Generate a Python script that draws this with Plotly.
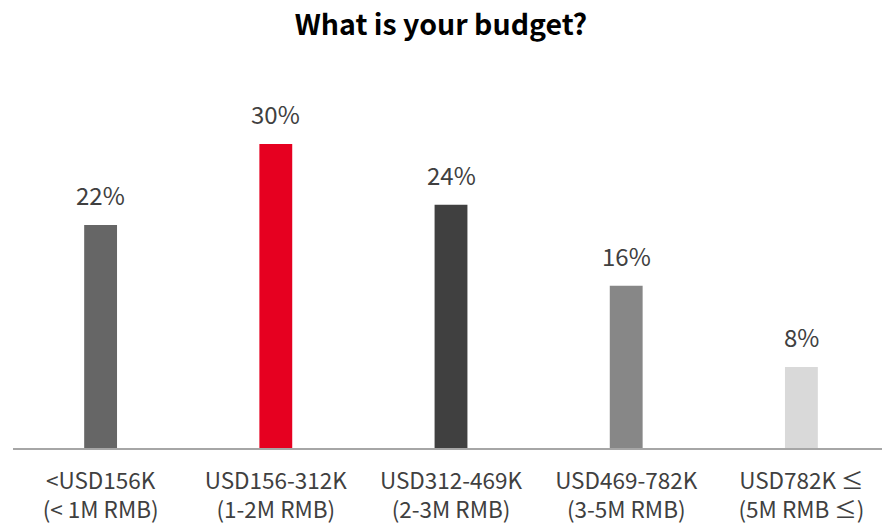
import plotly.graph_objects as go

categories = ["<USD156K<br>(< 1M RMB)", "USD156-312K<br>(1-2M RMB)", "USD312-469K<br>(2-3M RMB)",
              "USD469-782K<br>(3-5M RMB)", "USD782K ≤<br>(5M RMB ≤)"]
values = [22, 30, 24, 16, 8]
labels = ["22%", "30%", "24%", "16%", "8%"]
colors = ["#666666", "#E60020", "#404040", "#878787", "#D9D9D9"]

FONT = "Noto Sans CJK JP"

fig = go.Figure(go.Bar(
    x=categories, y=values, marker=dict(color=colors, line=dict(width=0)),
    width=0.1875, hoverinfo="skip"))

for c, v, t in zip(categories, values, labels):
    fig.add_annotation(x=c, y=v, text=t, showarrow=False, yanchor="bottom",
                       yshift=11, font=dict(family=FONT, size=24, color="#404040"))

fig.update_layout(
    template="none",
    width=882, height=525,
    margin=dict(l=13, r=0, t=100, b=77, pad=0, autoexpand=False),
    paper_bgcolor="white", plot_bgcolor="white",
    title=dict(text="<b>What is your budget?</b>", x=0.5, xanchor="center", y=0.952,
               yanchor="middle", font=dict(family=FONT, size=28.5, color="#000000")),
    xaxis=dict(range=[-0.5, 4.46], showline=True, linecolor="#A6A6A6", linewidth=2,
               ticks="", tickfont=dict(family=FONT, size=22.5, color="#404040"),
               ticklabelstandoff=12, showgrid=False, zeroline=False, automargin=False),
    yaxis=dict(range=[0, 34.34], visible=False, showgrid=False, zeroline=False,
               automargin=False),
    showlegend=False,
)

fig.write_html("out.html", config={"displayModeBar": False, "staticPlot": True})

with open("out.html", "r", encoding="utf-8") as f:
    html = f.read()
html = html.replace("<head>", "<head><style>html,body{margin:0;padding:0;overflow:hidden;}</style>", 1)
with open("out.html", "w", encoding="utf-8") as f:
    f.write(html)
